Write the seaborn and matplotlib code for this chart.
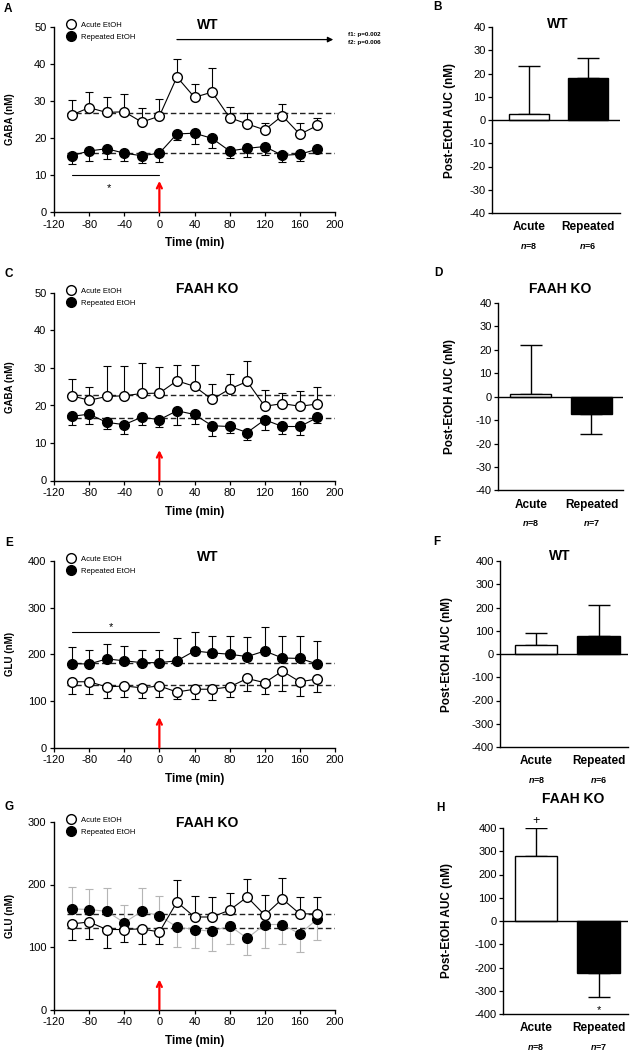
import numpy as np
import matplotlib
matplotlib.use('Agg')
import matplotlib.pyplot as plt
import matplotlib.transforms as mtransforms
import seaborn as sns
from matplotlib.lines import Line2D

# sampling times (min), EtOH given at t = 0
time_min = [-100, -80, -60, -40, -20, 0, 20, 40, 60, 80, 100, 120, 140, 160, 180]

# GABA, WT
gaba_wt_acute = [26.2, 28.2, 26.9, 27.1, 24.3, 25.9, 36.5, 31.0, 32.4, 25.5, 23.8, 22.2, 26.0, 21.0, 23.4]
gaba_wt_acute_sem = [4.0, 4.3, 4.1, 4.9, 3.9, 4.7, 4.8, 3.6, 6.6, 2.8, 2.9, 1.9, 3.1, 3.0, 1.9]
gaba_wt_rep = [15.2, 16.5, 17.1, 15.9, 15.2, 15.9, 21.1, 21.3, 19.9, 16.5, 17.2, 17.7, 15.3, 15.6, 17.0]
gaba_wt_rep_sem = [2.2, 2.7, 2.8, 2.1, 2.0, 2.5, 1.6, 2.9, 2.7, 2.0, 2.4, 2.3, 1.7, 1.7, 1.1]
gaba_wt_base = [26.8, 15.9]

# GABA, FAAH KO
gaba_ko_acute = [22.6, 21.4, 22.4, 22.6, 23.2, 23.3, 26.6, 25.1, 21.6, 24.4, 26.4, 19.8, 20.5, 19.8, 20.4]
gaba_ko_acute_sem = [4.5, 3.5, 8.0, 7.8, 8.0, 6.9, 4.1, 5.8, 4.0, 4.1, 5.4, 4.2, 2.8, 4.0, 4.4]
gaba_ko_rep = [17.1, 17.7, 15.5, 14.9, 16.9, 16.2, 18.6, 17.6, 14.6, 14.4, 12.8, 16.2, 14.4, 14.4, 16.8]
gaba_ko_rep_sem = [2.2, 2.6, 1.8, 2.5, 2.2, 2.0, 3.9, 2.5, 2.6, 1.7, 1.9, 2.8, 2.0, 2.2, 1.6]
gaba_ko_base = [22.9, 16.7]

# GLU, WT
glu_wt_acute = [141, 141, 130, 132, 128, 132, 119, 125, 125, 130, 148, 139, 164, 141, 147]
glu_wt_acute_sem = [27, 27, 24, 23, 22, 23, 14, 21, 24, 21, 27, 25, 43, 31, 29]
glu_wt_rep = [180, 179, 190, 186, 182, 182, 186, 207, 203, 200, 195, 207, 192, 191, 179]
glu_wt_rep_sem = [36, 30, 33, 32, 28, 28, 49, 40, 37, 39, 42, 51, 48, 48, 49]
glu_wt_base = [182, 135]

# GLU, FAAH KO
glu_ko_acute = [137, 140, 128, 128, 129, 124, 172, 148, 148, 159, 180, 151, 177, 153, 153]
glu_ko_acute_sem = [26, 27, 29, 20, 24, 19, 35, 33, 32, 28, 29, 33, 34, 27, 27]
glu_ko_rep = [161, 160, 157, 139, 157, 150, 132, 128, 125, 134, 114, 136, 136, 121, 145]
glu_ko_rep_sem = [35, 33, 38, 29, 38, 31, 32, 29, 31, 29, 27, 37, 31, 29, 34]
glu_ko_base = [153, 130]

# post-EtOH AUC
groups = ['Acute', 'Repeated']
auc_gaba_wt = [2.4, 18.1]
auc_gaba_wt_sem = [20.7, 8.6]
n_gaba_wt = [8, 6]
auc_gaba_ko = [1.0, -7.4]
auc_gaba_ko_sem = [21.0, 8.3]
n_gaba_ko = [8, 7]
auc_glu_wt = [37, 76]
auc_glu_wt_sem = [55, 135]
n_glu_wt = [8, 6]
auc_glu_ko = [279, -224]
auc_glu_ko_sem = [121, 105]
n_glu_ko = [8, 7]

sns.set_style('ticks', rc={'axes.edgecolor': 'black', 'text.color': 'black',
                           'axes.labelcolor': 'black', 'xtick.color': 'black',
                           'ytick.color': 'black'})
plt.rcParams['font.family'] = ['Liberation Sans', 'DejaVu Sans']
plt.rcParams['mathtext.fontset'] = 'custom'
plt.rcParams['mathtext.it'] = 'Liberation Sans:italic:bold'
plt.rcParams['axes.linewidth'] = 1.0
plt.rcParams['axes.unicode_minus'] = False

W, H = 631, 1050
fig = plt.figure(figsize=(W / 100, H / 100), dpi=100)


def px_rect(l, t, r, b):
    return [l / W, 1 - b / H, (r - l) / W, (b - t) / H]


def time_panel(ax, acute, acute_sem, rep, rep_sem, base, ylim, ystep, ylabel,
               title, title_y, arrow_top, rep_color='black'):
    t = np.array(time_min)
    a, r = np.array(acute, float), np.array(rep, float)
    ea, er = np.array(acute_sem, float), np.array(rep_sem, float)
    up = a >= r  # error bars drawn away from the other group
    ax.errorbar(t, a, yerr=[np.where(up, 0, ea), np.where(up, ea, 0)], fmt='none',
                ecolor='black', elinewidth=0.8, capsize=3, capthick=0.8, zorder=2)
    ax.errorbar(t, r, yerr=[np.where(up, er, 0), np.where(up, 0, er)], fmt='none',
                ecolor=rep_color, elinewidth=0.8, capsize=3, capthick=0.8, zorder=2)
    for b in base:
        ax.plot([-105, 200], [b, b], color='#222222', lw=1, ls=(0, (4, 2.2)), zorder=1)
    sns.lineplot(x=t, y=r, ax=ax, color=rep_color, lw=0.8, marker='o', markersize=7,
                 markerfacecolor='black', markeredgecolor='black', markeredgewidth=1, zorder=3)
    sns.lineplot(x=t, y=a, ax=ax, color='black', lw=0.8, marker='o', markersize=7,
                 markerfacecolor='white', markeredgecolor='black', markeredgewidth=1, zorder=4)
    ax.set_xlim(-120, 200)
    ax.set_xticks(range(-120, 201, 40))
    ax.set_ylim(*ylim)
    ax.set_yticks(np.arange(ylim[0], ylim[1] + 1, ystep))
    ax.tick_params(direction='out', length=3, width=0.9, labelsize=8, pad=2.5)
    sns.despine(ax=ax)
    ax.set_ylabel(ylabel, fontsize=7, fontweight='bold')
    ax.yaxis.set_label_coords(-0.14, 0.5)
    ax.set_xlabel('Time (min)', fontsize=8.5, fontweight='bold')
    ax.xaxis.set_label_coords(0.5, -0.135)
    ax.text(55, title_y, title, ha='center', va='center', fontsize=10, fontweight='bold')
    ax.annotate('', xy=(0, arrow_top), xytext=(0, ylim[0]),
                arrowprops=dict(arrowstyle='->', color='red', lw=1.6, mutation_scale=9,
                                shrinkA=0, shrinkB=0), zorder=5)
    handles = [Line2D([], [], ls='none', marker='o', ms=7, mfc='white', mec='black', mew=1),
               Line2D([], [], ls='none', marker='o', ms=7, mfc='black', mec='black', mew=1)]
    ax.legend(handles, ['Acute EtOH', 'Repeated EtOH'], loc='upper left',
              bbox_to_anchor=(0.046, 1.03), frameon=False, fontsize=5.5, handlelength=1.0,
              handletextpad=0.9, labelspacing=0.65, borderaxespad=0, borderpad=0)


def auc_panel(ax, vals, sems, ns, ylim, ystep, xlim, title, title_xy, ylab_x):
    sns.barplot(x=groups, y=vals, hue=groups, palette=['white', 'black'], edgecolor='black',
                linewidth=1, width=0.68, legend=False, ax=ax, zorder=2)
    v, e = np.array(vals, float), np.array(sems, float)
    neg = v < 0
    ax.errorbar([0, 1], v, yerr=[np.where(neg, e, 0), np.where(neg, 0, e)], fmt='none',
                ecolor='black', elinewidth=1, capsize=8, capthick=1, zorder=1)
    ax.axhline(0, color='black', lw=1, zorder=3)
    ax.set_xlim(*xlim)
    ax.set_ylim(*ylim)
    ax.set_yticks(np.arange(ylim[0], ylim[1] + 1, ystep))
    ax.tick_params(axis='y', direction='out', length=3, width=0.9, labelsize=8, pad=1.5)
    ax.tick_params(axis='x', length=0, pad=6)
    for lab in ax.get_xticklabels():
        lab.set_fontweight('bold')
        lab.set_fontsize(8.5)
    sns.despine(ax=ax)
    ax.set_xlabel('')
    ax.set_ylabel('Post-EtOH AUC (nM)', fontsize=8.5, fontweight='bold')
    ax.yaxis.set_label_coords(-ylab_x, 0.5)
    ax.text(title_xy[0], title_xy[1], title, transform=ax.transAxes, ha='center',
            va='center', fontsize=10, fontweight='bold')
    tr = mtransforms.blended_transform_factory(ax.transData, ax.transAxes)
    for i, n in enumerate(ns):
        ax.text(i, -0.175, r'$\it{n}$=%d' % n, transform=tr, ha='center', va='center',
                fontsize=6.5, fontweight='bold')


axA = fig.add_axes(px_rect(54, 27, 335, 212))
time_panel(axA, gaba_wt_acute, gaba_wt_acute_sem, gaba_wt_rep, gaba_wt_rep_sem, gaba_wt_base,
           (0, 50), 10, 'GABA (nM)', 'WT', 50.6, 8.4)
axA.plot([-100, 0], [10, 10], color='black', lw=0.8)
axA.text(-57, 6.6, '*', ha='center', va='center', fontsize=8)
axA.annotate('', xy=(198, 46.6), xytext=(20, 46.6),
             arrowprops=dict(arrowstyle='-|>', color='black', lw=0.9, mutation_scale=8,
                             shrinkA=0, shrinkB=0))
axA.text(1.046, 0.957, 'f1: p=0.002', transform=axA.transAxes, ha='left', va='center',
         fontsize=4.5, fontweight='bold')
axA.text(1.046, 0.914, 'f2: p=0.006', transform=axA.transAxes, ha='left', va='center',
         fontsize=4.5, fontweight='bold')

axC = fig.add_axes(px_rect(54, 293, 335, 480.5))
time_panel(axC, gaba_ko_acute, gaba_ko_acute_sem, gaba_ko_rep, gaba_ko_rep_sem, gaba_ko_base,
           (0, 50), 10, 'GABA (nM)', 'FAAH KO', 51.0, 8.1)

axE = fig.add_axes(px_rect(54, 561, 335, 747.5))
time_panel(axE, glu_wt_acute, glu_wt_acute_sem, glu_wt_rep, glu_wt_rep_sem, glu_wt_base,
           (0, 400), 100, 'GLU (nM)', 'WT', 408, 65)
axE.plot([-100, 0], [247, 247], color='black', lw=0.8)
axE.text(-55, 258, '*', ha='center', va='center', fontsize=8)

axG = fig.add_axes(px_rect(54, 822, 335, 1009.5))
time_panel(axG, glu_ko_acute, glu_ko_acute_sem, glu_ko_rep, glu_ko_rep_sem, glu_ko_base,
           (0, 300), 100, 'GLU (nM)', 'FAAH KO', 299, 48, rep_color='#b5b5b5')

axB = fig.add_axes(px_rect(492, 27, 620, 213))
auc_panel(axB, auc_gaba_wt, auc_gaba_wt_sem, n_gaba_wt, (-40, 40), 10, (-0.63, 1.54),
          'WT', (0.51, 1.016), 0.28)

axD = fig.add_axes(px_rect(498, 303, 623, 490.5))
auc_panel(axD, auc_gaba_ko, auc_gaba_ko_sem, n_gaba_ko, (-40, 40), 10, (-0.54, 1.52),
          'FAAH KO', (0.50, 1.075), 0.34)

axF = fig.add_axes(px_rect(500, 561, 628, 747))
auc_panel(axF, auc_glu_wt, auc_glu_wt_sem, n_glu_wt, (-400, 400), 100, (-0.58, 1.47),
          'WT', (0.47, 1.027), 0.37)

axH = fig.add_axes(px_rect(503, 828, 628, 1014))
auc_panel(axH, auc_glu_ko, auc_glu_ko_sem, n_glu_ko, (-400, 400), 100, (-0.53, 1.47),
          'FAAH KO', (0.56, 1.156), 0.40)
axH.text(0, 432, '+', ha='center', va='center', fontsize=9)
axH.text(1, -385, '*', ha='center', va='center', fontsize=8)

for lab, x, y in [('A', 8, 9), ('B', 438, 7), ('C', 9, 274), ('D', 438, 273),
                  ('E', 9, 543), ('F', 437, 542), ('G', 9, 807), ('H', 440, 808)]:
    fig.text(x / W, 1 - y / H, lab, ha='center', va='center', fontsize=8.5, fontweight='bold')

fig.savefig('out.png', dpi=100)
